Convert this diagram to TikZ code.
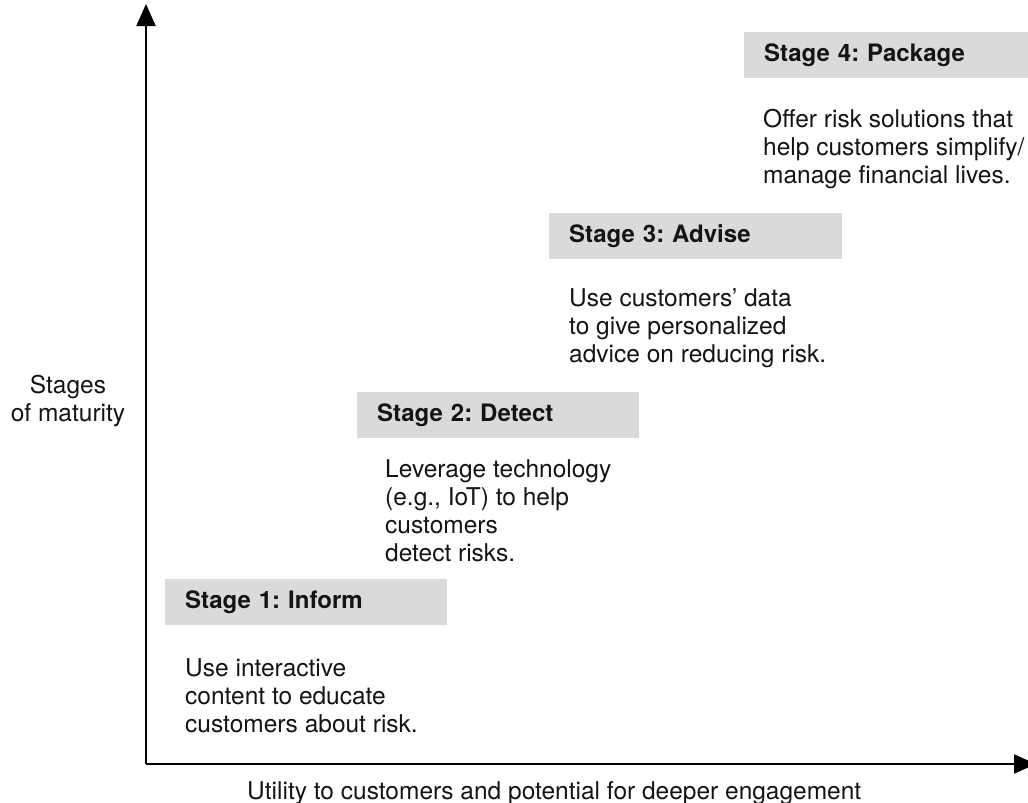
\documentclass[tikz,border=0pt]{standalone}
\usepackage{fontspec}
\setmainfont{TeX Gyre Heros}
\usetikzlibrary{arrows.meta}
\frenchspacing
\definecolor{boxgray}{RGB}{220,218,216}
\definecolor{inkblack}{RGB}{20,20,20}
\newcommand\bodyfnt{\fontsize{24.5}{28}\selectfont}
\newcommand\titlefnt{\bfseries\fontsize{24}{28}\selectfont}
\tikzset{
  stagebox/.style={fill=boxgray, draw=none, anchor=north west, minimum height=46pt,
    inner xsep=20pt, inner ysep=0pt, align=left, font=\titlefnt, text=inkblack, text width=#1},
  bodytext/.style={anchor=north west, inner sep=0pt, align=left, font=\bodyfnt, text=inkblack},
  axis/.style={line width=2pt, draw=black, -{Triangle[length=22pt,width=19pt]}}
}
\begin{document}
\begin{tikzpicture}[x=1pt,y=-1pt]
\useasboundingbox (0,0) rectangle (1028,803);
% axes
\coordinate (O) at (146,764);
\coordinate (ytip) at (146,4);
\coordinate (xtip) at (1036,764);
\draw[axis] (O) -- (ytip);
\draw[axis] (O) -- (xtip);
% axis labels
\node[anchor=north, inner sep=0pt, align=center, font=\bodyfnt, text=inkblack] (ylab) at (68,375) {Stages\\of maturity};
\node[anchor=north west, inner sep=0pt, font=\bodyfnt, text=inkblack] (xlab) at (247,781) {Utility to customers and potential for deeper engagement};
% stage 1
\node[stagebox=242pt] (s1) at (165,579) {Stage 1: Inform};
\node[bodytext] (t1) at (185,658) {Use interactive\\content to educate\\customers about risk.};
% stage 2
\node[stagebox=242pt] (s2) at (357,392) {Stage 2: Detect};
\node[bodytext] (t2) at (385,459) {Leverage technology\\(e.g., IoT) to help\\customers\\detect risks.};
% stage 3
\node[stagebox=253pt] (s3) at (549,213) {Stage 3: Advise};
\node[bodytext] (t3) at (569,288) {Use customers’ data\\to give personalized\\advice on reducing risk.};
% stage 4
\node[stagebox=250pt] (s4) at (744,32) {Stage 4: Package};
\node[bodytext] (t4) at (763,109) {Offer risk solutions that\\help customers simplify/\\manage financial lives.};
\end{tikzpicture}
\end{document}
